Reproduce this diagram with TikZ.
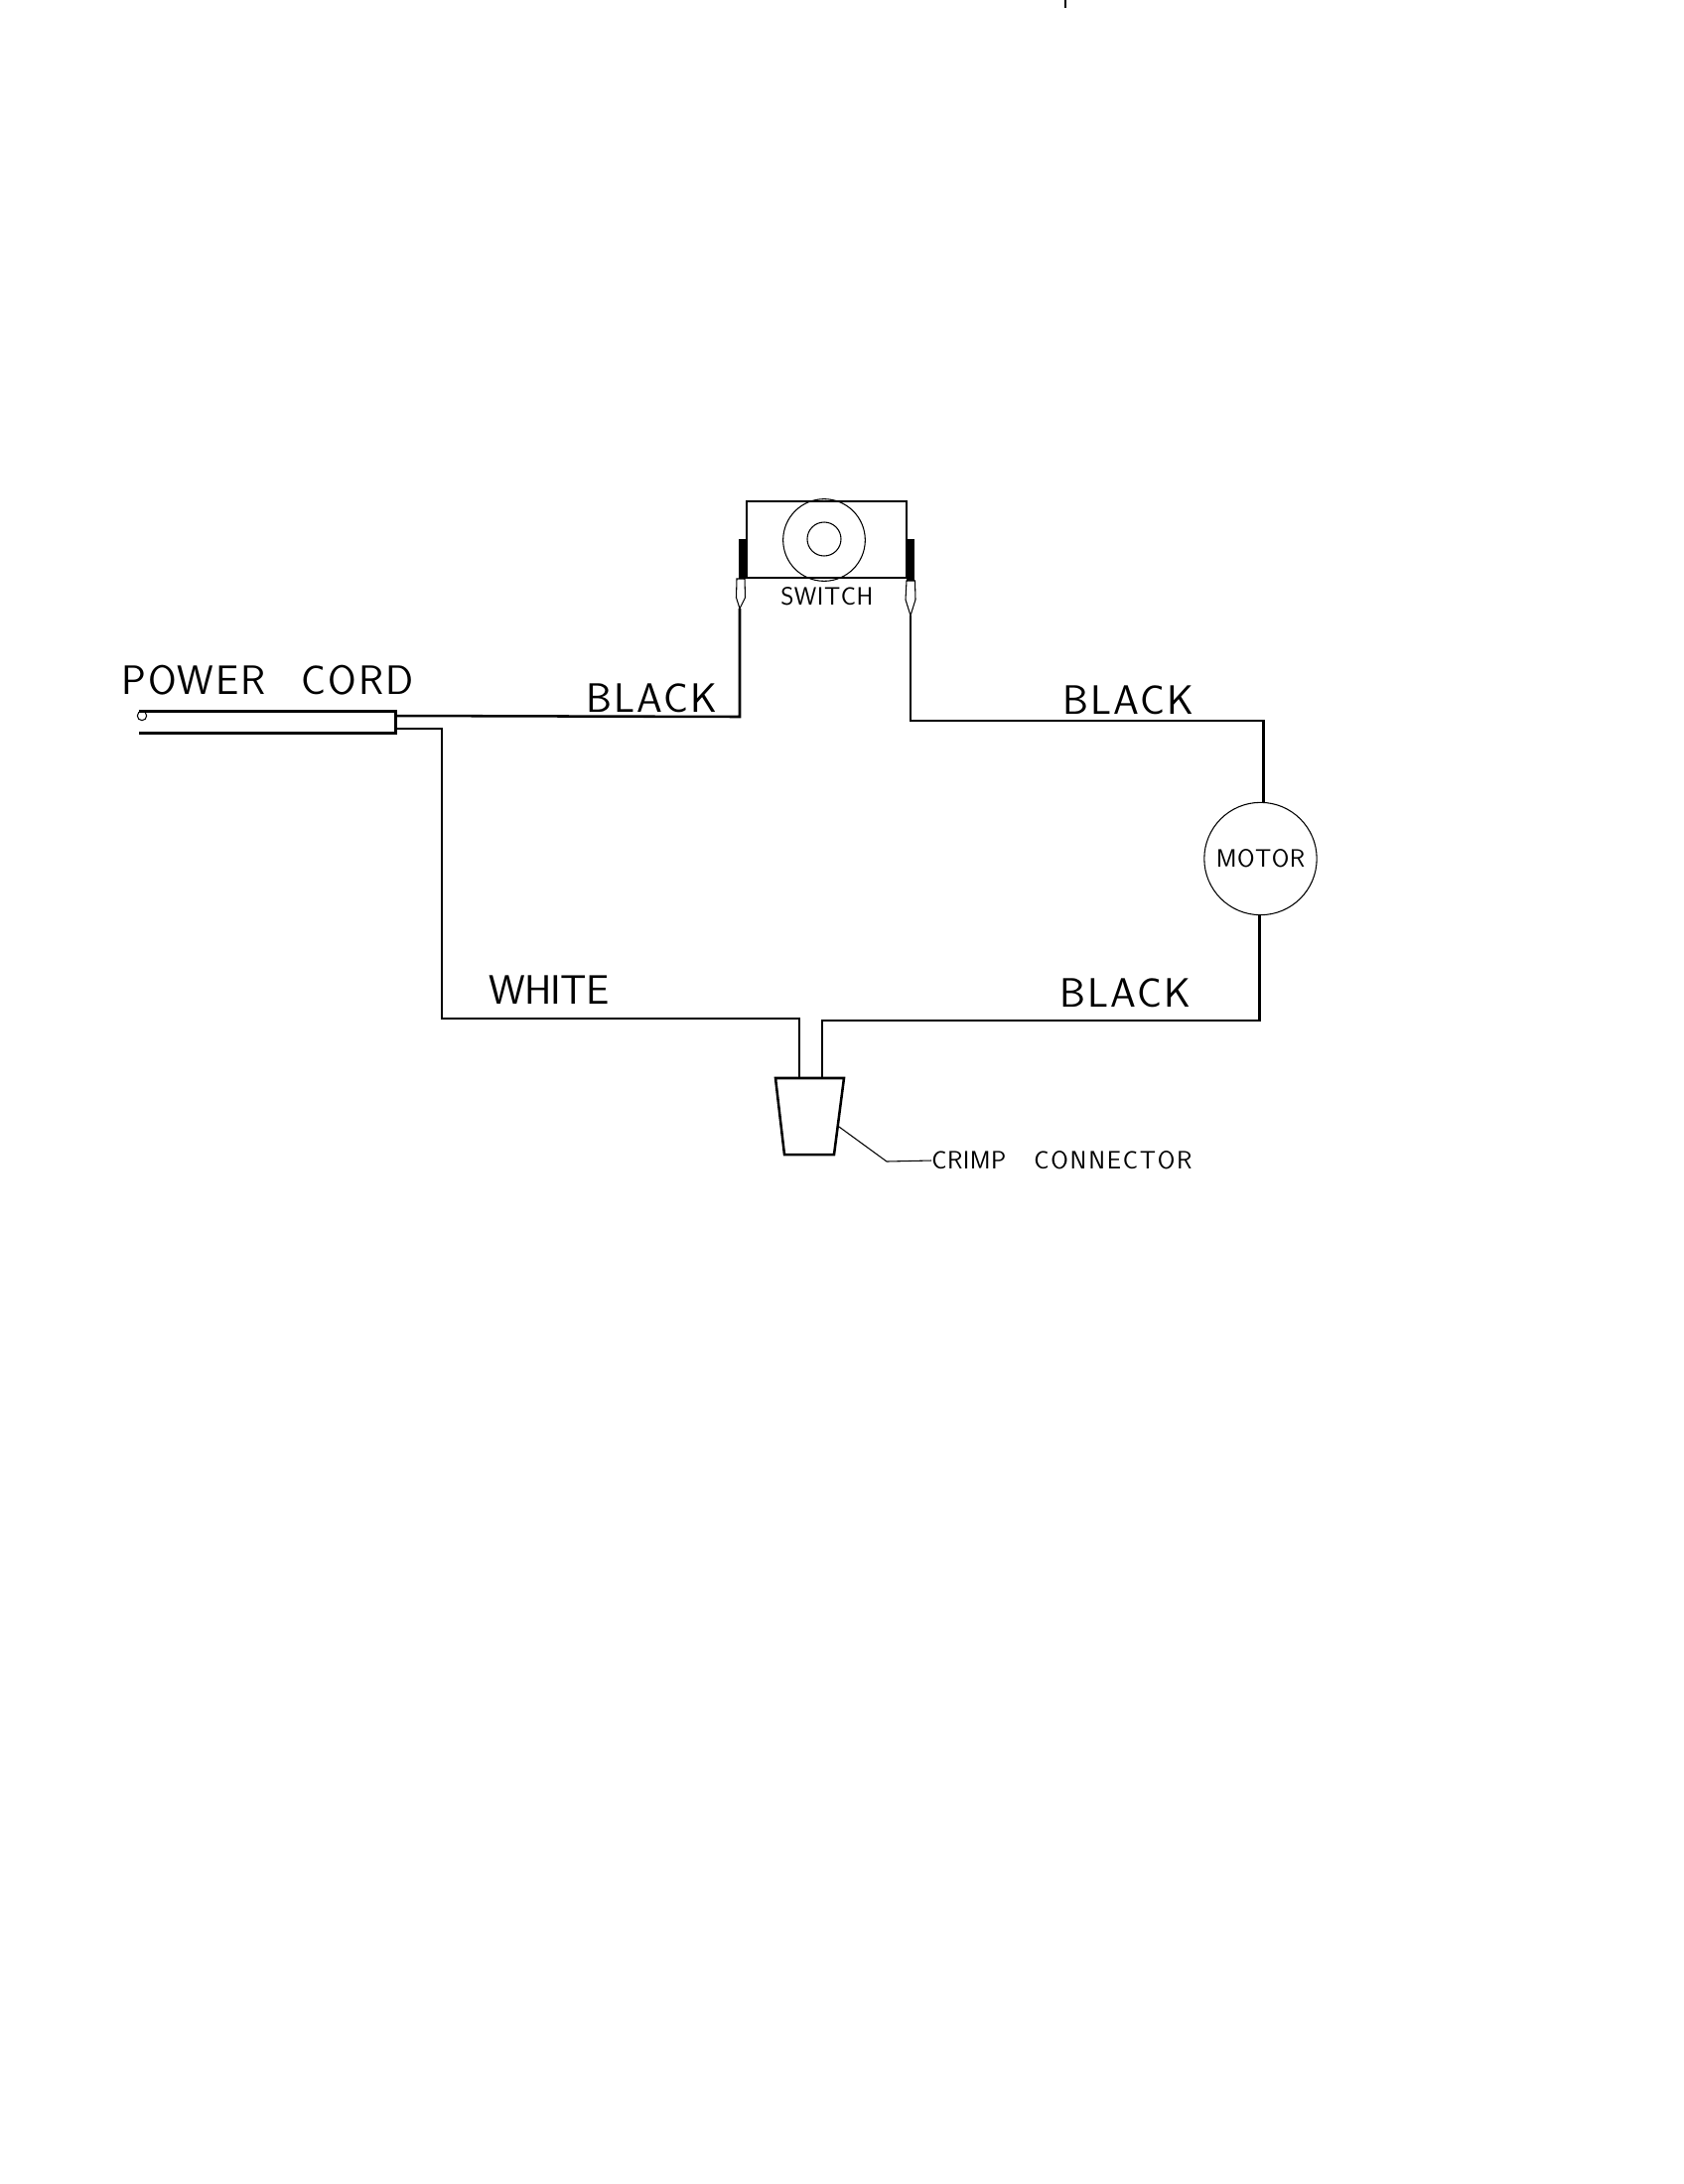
\documentclass[tikz,border=0pt]{standalone}
\usepackage{xcolor}
\usepackage{fontspec}
\setsansfont{Latin Modern Sans}
\tikzset{
  wire/.style={line width=1.9pt,line join=miter},
  thinline/.style={line width=0.8pt},
  lbl/.style={inner sep=0pt,font=\sffamily},
  biglbl/.style={lbl,font=\sffamily\fontsize{31}{31}\selectfont\addfontfeature{LetterSpace=5}},
  smalllbl/.style={lbl,font=\sffamily\fontsize{19}{19}\selectfont\addfontfeature{LetterSpace=2}}
}
\begin{document}
\begin{tikzpicture}[x=0.75pt,y=0.75pt,yscale=-1,xscale=1]
\path[use as bounding box,fill=white] (0,0) rectangle (1696,2200);

%Tick at page top
\coordinate (tickA) at (1073,0);
\coordinate (tickB) at (1073,8);
\draw [thinline] (tickA) -- (tickB);

%Switch body
\draw (832.5,543.5) node [draw,wire,inner sep=0pt,minimum width=120.75pt,minimum height=57.75pt] (switch) {};
\draw (830,544) node [draw,thinline,circle,inner sep=0pt,minimum size=62pt] (knob) {};
\draw (830,543) node [draw,thinline,circle,inner sep=0pt,minimum size=25.5pt] (knobIn) {};
%Left terminal
\draw (747.5,562.5) node [fill=black,inner sep=0pt,minimum width=5.2pt,minimum height=30pt] (termL) {};
\coordinate (lugL) at (745,613);
\draw [thinline,fill=white] (742,583) -- (750,583) -- (750.5,602) -- (lugL) -- (741.5,602) -- cycle;
%Right terminal
\draw (917,564) node [fill=black,inner sep=0pt,minimum width=6pt,minimum height=32pt] (termR) {};
\coordinate (lugR) at (917,620);
\draw [thinline,fill=white] (913,585) -- (921.5,585) -- (922,604) -- (lugR) -- (912,604) -- cycle;

%Power cord
\draw (269,727.5) node [inner sep=0pt,minimum width=193.5pt,minimum height=15.75pt] (cord) {};
\draw [wire] (cord.north west) -- (cord.north east) -- (cord.south east) -- (cord.south west);
\draw (143,721) node [draw,thinline,circle,inner sep=0pt,minimum size=7pt] (cordEnd) {};
\coordinate (cordBlack) at (398,721);
\coordinate (cordWhite) at (398,734);

%Motor
\draw (1269.5,865) node [draw,thinline,circle,inner sep=0pt,minimum size=85pt,smalllbl] (motor) {MOTOR};

%Crimp connector
\coordinate (crimpA) at (781,1086);
\coordinate (crimpB) at (850,1086);
\coordinate (crimpC) at (840,1163);
\coordinate (crimpD) at (790,1163);
\draw [wire] (crimpA) -- (crimpB) -- (crimpC) -- (crimpD) -- cycle;
\coordinate (crimpWhite) at (805,1086);
\coordinate (crimpBlack) at (828,1086);
\coordinate (crimpLead) at (845,1135);
\coordinate (leadBend) at (893,1170);
\coordinate (turnTop) at (917,726);
\coordinate (turnBot) at (828,1028);

%Wires
\draw [wire] (cordBlack) -- (745,722) -- (lugL);
\draw [wire] (lugR) -- (turnTop) -- (turnTop -| motor.87) -- (motor.87);
\draw [wire] (motor.269) -- (turnBot -| motor.269) -- (turnBot) -- (crimpBlack);
\draw [wire] (cordWhite) -- (445,734) -- (445,1026) -- (805,1026) -- (crimpWhite);

% Text Node
\draw (122,685) node [anchor=west,biglbl] (cordLbl) {POWER\kern27pt CORD};
% Text Node
\draw (590,703) node [anchor=west,biglbl] (blackA) {BLACK};
% Text Node
\draw (1070,705) node [anchor=west,biglbl] (blackB) {BLACK};
% Text Node
\draw (492,997) node [anchor=west,biglbl,font=\sffamily\fontsize{31}{31}\selectfont\addfontfeature{LetterSpace=-2}] (whiteLbl) {WHITE};
% Text Node
\draw (1067,1000) node [anchor=west,biglbl] (blackC) {BLACK};
% Text Node
\draw (786,601) node [anchor=west,smalllbl] (switchLbl) {SWITCH};
% Text Node
\draw (938,1169) node [anchor=west,smalllbl] (crimpLbl) {CRIMP\kern21pt {\addfontfeature{LetterSpace=7}CONNECTOR}};

\draw [thinline] (crimpLead) -- (leadBend) -- (crimpLbl.west);

\end{tikzpicture}
\end{document}
